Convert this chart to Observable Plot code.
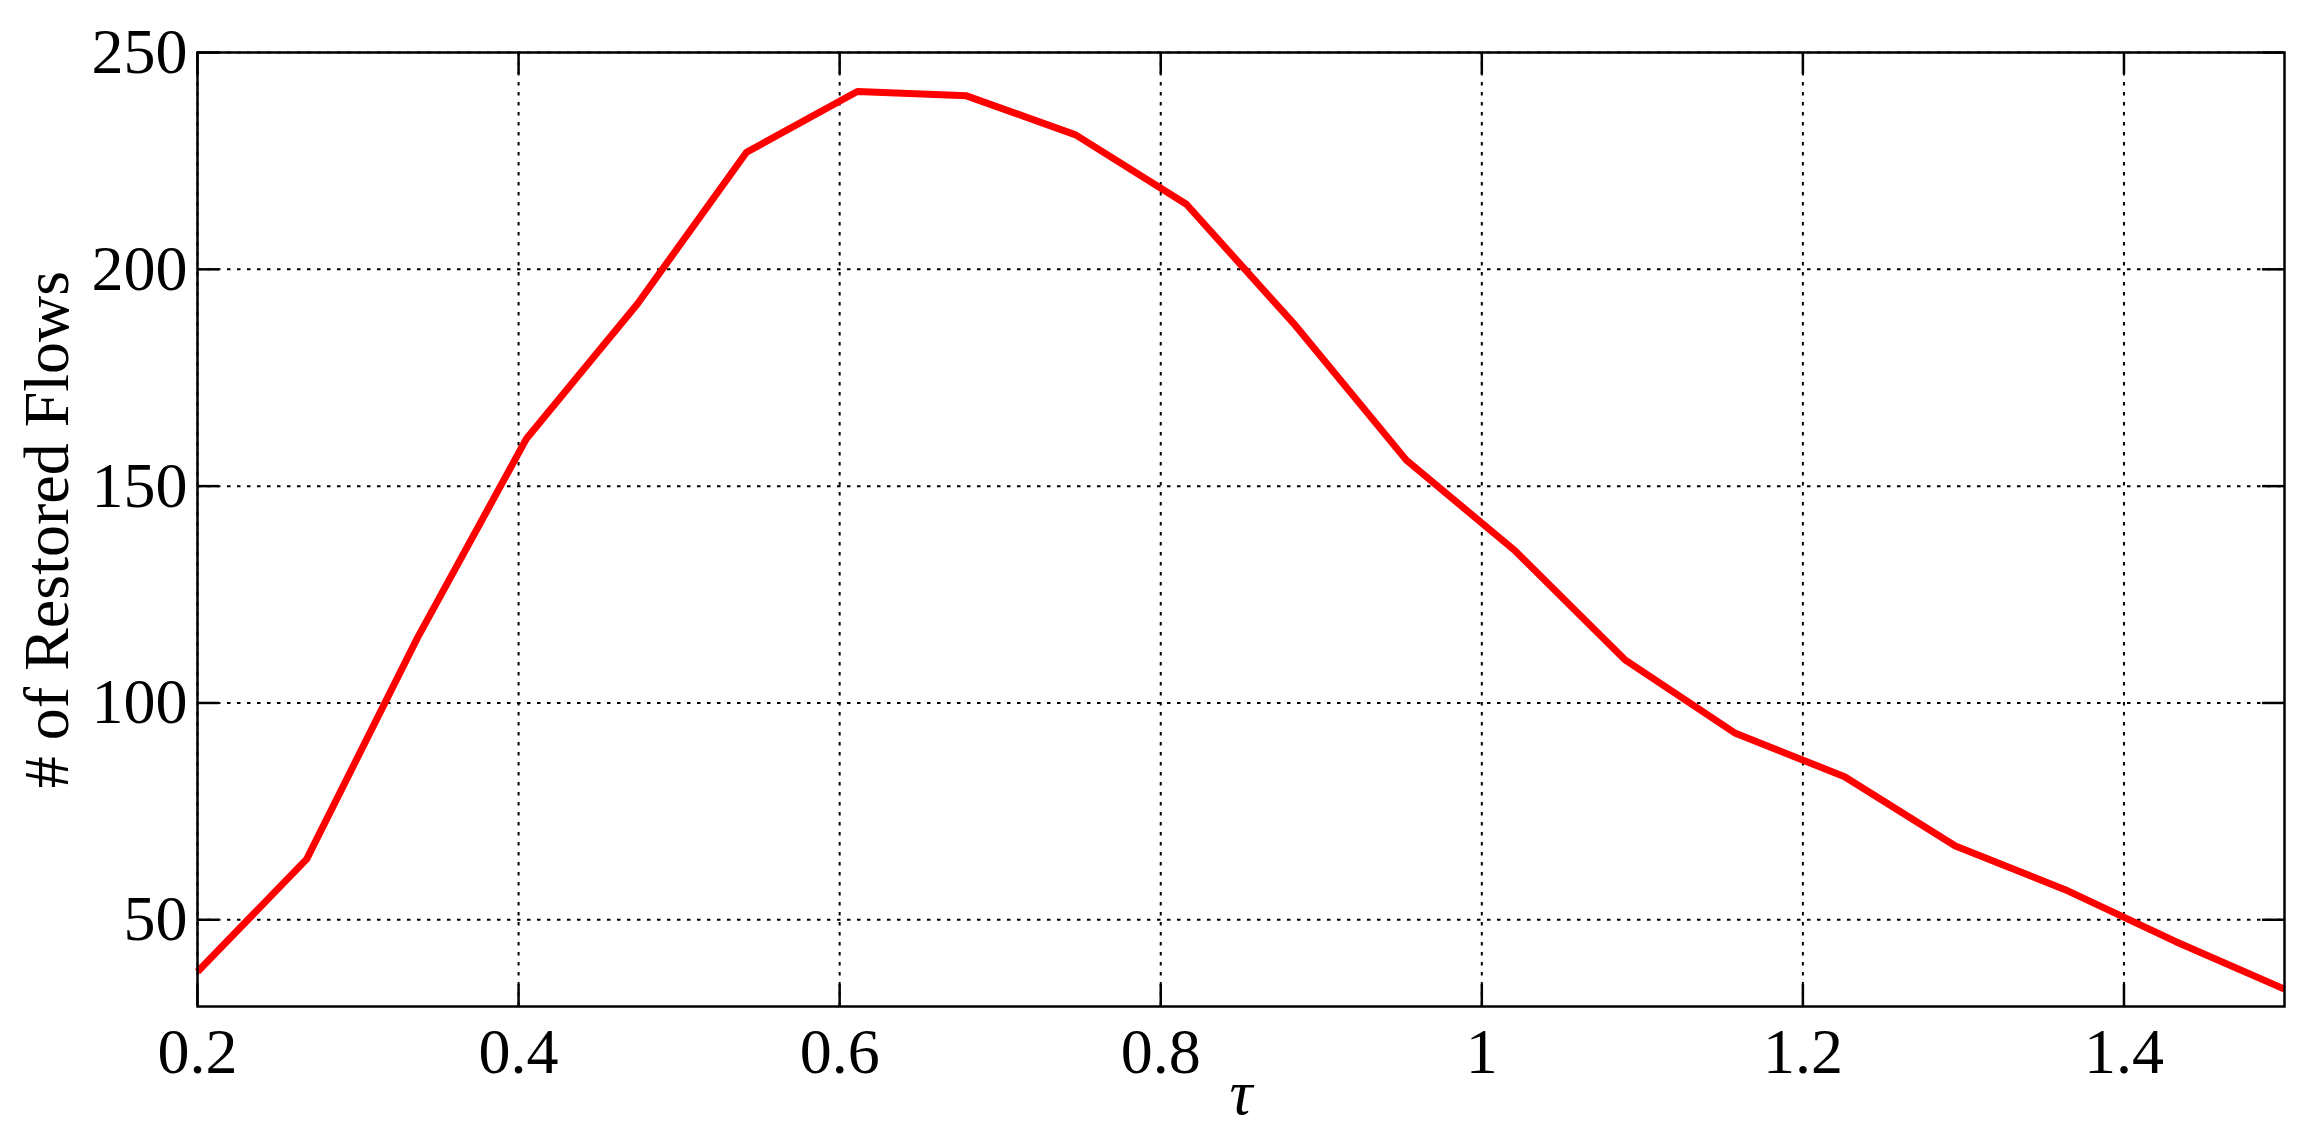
<!DOCTYPE html>
<html>
<head>
<meta charset="utf-8">
<script src="https://cdn.jsdelivr.net/npm/d3@7"></script>
<script src="https://cdn.jsdelivr.net/npm/@observablehq/plot@0.6"></script>
<style>
  html, body { margin: 0; padding: 0; background: #fff; }
  #chart { width: 2320px; height: 1139px; }
</style>
</head>
<body>
<div id="chart"></div>
<script>
// Data
const tau = [0.2, 0.268, 0.337, 0.405, 0.474, 0.542, 0.611, 0.679, 0.747, 0.816,
             0.884, 0.953, 1.021, 1.089, 1.158, 1.226, 1.295, 1.363, 1.432, 1.5];
const restoredFlows = [38, 64, 115, 161, 192, 227, 241, 240, 231, 215,
                       187, 156, 135, 110, 93, 83, 67, 57, 45, 34];
const xTicks = [0.2, 0.4, 0.6, 0.8, 1.0, 1.2, 1.4];
const xTickLabels = ["0.2", "0.4", "0.6", "0.8", "1", "1.2", "1.4"];
const yTicks = [50, 100, 150, 200, 250];
const xDomain = [0.2, 1.5];
const yDomain = [30, 250];
const xLabel = ["τ"];
const yLabel = ["# of Restored Flows"];

const data = tau.map((t, i) => ({tau: t, flows: restoredFlows[i]}));

const W = 2320, H = 1139;
const mL = 197, mR = 36, mT = 52, mB = 133;
const plotW = W - mL - mR, plotH = H - mT - mB;
const tickLen = 22;
const font = "'Liberation Serif', 'Times New Roman', Times, serif";
const fs = 64;
const gridDash = "3.5,6.5";

const chart = Plot.plot({
  width: W,
  height: H,
  marginLeft: mL,
  marginRight: mR,
  marginTop: mT,
  marginBottom: mB,
  style: {fontFamily: font, background: "#fff", color: "#000"},
  x: {domain: xDomain, type: "linear"},
  y: {domain: yDomain, type: "linear"},
  marks: [
    // dotted grid
    Plot.ruleX(xTicks, {x: d => d, stroke: "#000", strokeWidth: 2, strokeDasharray: gridDash}),
    Plot.ruleY(yTicks, {y: d => d, stroke: "#000", strokeWidth: 2, strokeDasharray: gridDash}),
    // data line
    Plot.line(data, {x: "tau", y: "flows", stroke: "#ff0000", strokeWidth: 7, strokeLinejoin: "round", strokeLinecap: "butt"}),
    // frame
    Plot.frame({stroke: "#000", strokeWidth: 2.5}),
    // inward ticks on all four sides
    Plot.ruleX(xTicks, {x: d => d, stroke: "#000", strokeWidth: 2.5, insetTop: plotH - tickLen}),
    Plot.ruleX(xTicks, {x: d => d, stroke: "#000", strokeWidth: 2.5, insetBottom: plotH - tickLen}),
    Plot.ruleY(yTicks, {y: d => d, stroke: "#000", strokeWidth: 2.5, insetRight: plotW - tickLen}),
    Plot.ruleY(yTicks, {y: d => d, stroke: "#000", strokeWidth: 2.5, insetLeft: plotW - tickLen}),
    // tick labels
    Plot.axisX({
      anchor: "bottom",
      ticks: xTicks,
      tickFormat: (d) => xTickLabels[xTicks.findIndex(t => Math.abs(t - d) < 1e-9)],
      tickSize: 0,
      tickPadding: 21,
      fontSize: fs,
      fill: "#000",
      label: null
    }),
    Plot.axisY({
      anchor: "left",
      ticks: yTicks,
      tickFormat: d => String(d),
      tickSize: 0,
      tickPadding: 10,
      fontSize: fs,
      fill: "#000",
      label: null
    }),
    // axis titles
    Plot.text(xLabel, {
      text: d => d,
      frameAnchor: "bottom",
      dy: 107,
      lineAnchor: "bottom",
      fontSize: fs,
      fontStyle: "italic",
      fill: "#000"
    }),
    Plot.text(yLabel, {
      text: d => d,
      frameAnchor: "left",
      dx: 67 - mL,
      rotate: -90,
      textAnchor: "middle",
      lineAnchor: "bottom",
      fontSize: fs,
      fill: "#000"
    })
  ]
});

document.getElementById("chart").appendChild(chart);
</script>
</body>
</html>
